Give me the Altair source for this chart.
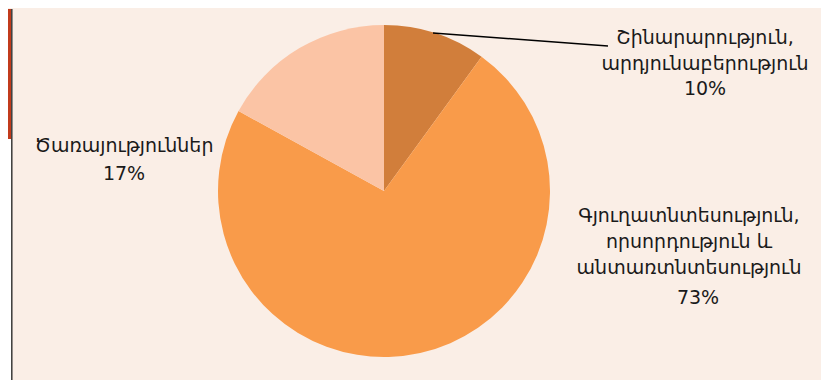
import altair as alt
import pandas as pd

categories = ["Շինարարություն,\nարդյունաբերություն", "Գյուղատնտեսություն,\nորսորդություն և \nանտառտնտեսություն", "Ծառայություններ"]
shares = [10, 73, 17]
colors = ["#D17E3B", "#F99B4A", "#FBC4A5"]

df = pd.DataFrame({"category": categories, "share": shares, "order": [0, 1, 2]})

W, H = 813, 372
CX, CY, R = 376, 182, 166
FONT = "DejaVu Sans"

pie = alt.Chart(df).mark_arc(outerRadius=R, stroke=None).encode(
    theta=alt.Theta("share:Q", stack=True),
    order=alt.Order("order:Q"),
    color=alt.Color("category:N", scale=alt.Scale(domain=categories, range=colors), legend=None),
    x=alt.value(CX),
    y=alt.value(CY),
)

base = alt.Chart(pd.DataFrame({"a": [0]}))

red_strip = base.mark_rect(color="#C23B1C").encode(
    x=alt.value(0), x2=alt.value(3), y=alt.value(0), y2=alt.value(130))
white_strip = base.mark_rect(color="#FFFFFF").encode(
    x=alt.value(0), x2=alt.value(3), y=alt.value(130), y2=alt.value(H + 10))
border = base.mark_rule(color="#3A3A3A", strokeWidth=1.5).encode(
    x=alt.value(3.8), y=alt.value(0), y2=alt.value(H + 10))

leader = base.mark_rule(color="#000000", strokeWidth=1.5).encode(
    x=alt.value(425), y=alt.value(24), x2=alt.value(600), y2=alt.value(37))

def label(text, x, y, lh=26):
    return base.mark_text(
        text=text, font=FONT, fontSize=19, color="#1A1A1A", align="center",
        baseline="middle", lineBreak="\n", lineHeight=lh,
    ).encode(x=alt.value(x), y=alt.value(y))

layers = [
    red_strip, white_strip, border, pie, leader,
    label(categories[0], 697, 29),
    label(f"{shares[0]}%", 697, 80),
    label(categories[1], 681, 207),
    label(f"{shares[1]}%", 690, 289),
    label(categories[2], 116, 137),
    label(f"{shares[2]}%", 116, 165),
]

chart = alt.layer(*layers).properties(
    width=W, height=H,
    autosize=alt.AutoSizeParams(type="fit", contains="padding"),
    padding=0,
    background="#FAEEE6",
).configure_view(stroke=None)

chart.save("out.html", embed_options={"renderer": "svg", "actions": False})
